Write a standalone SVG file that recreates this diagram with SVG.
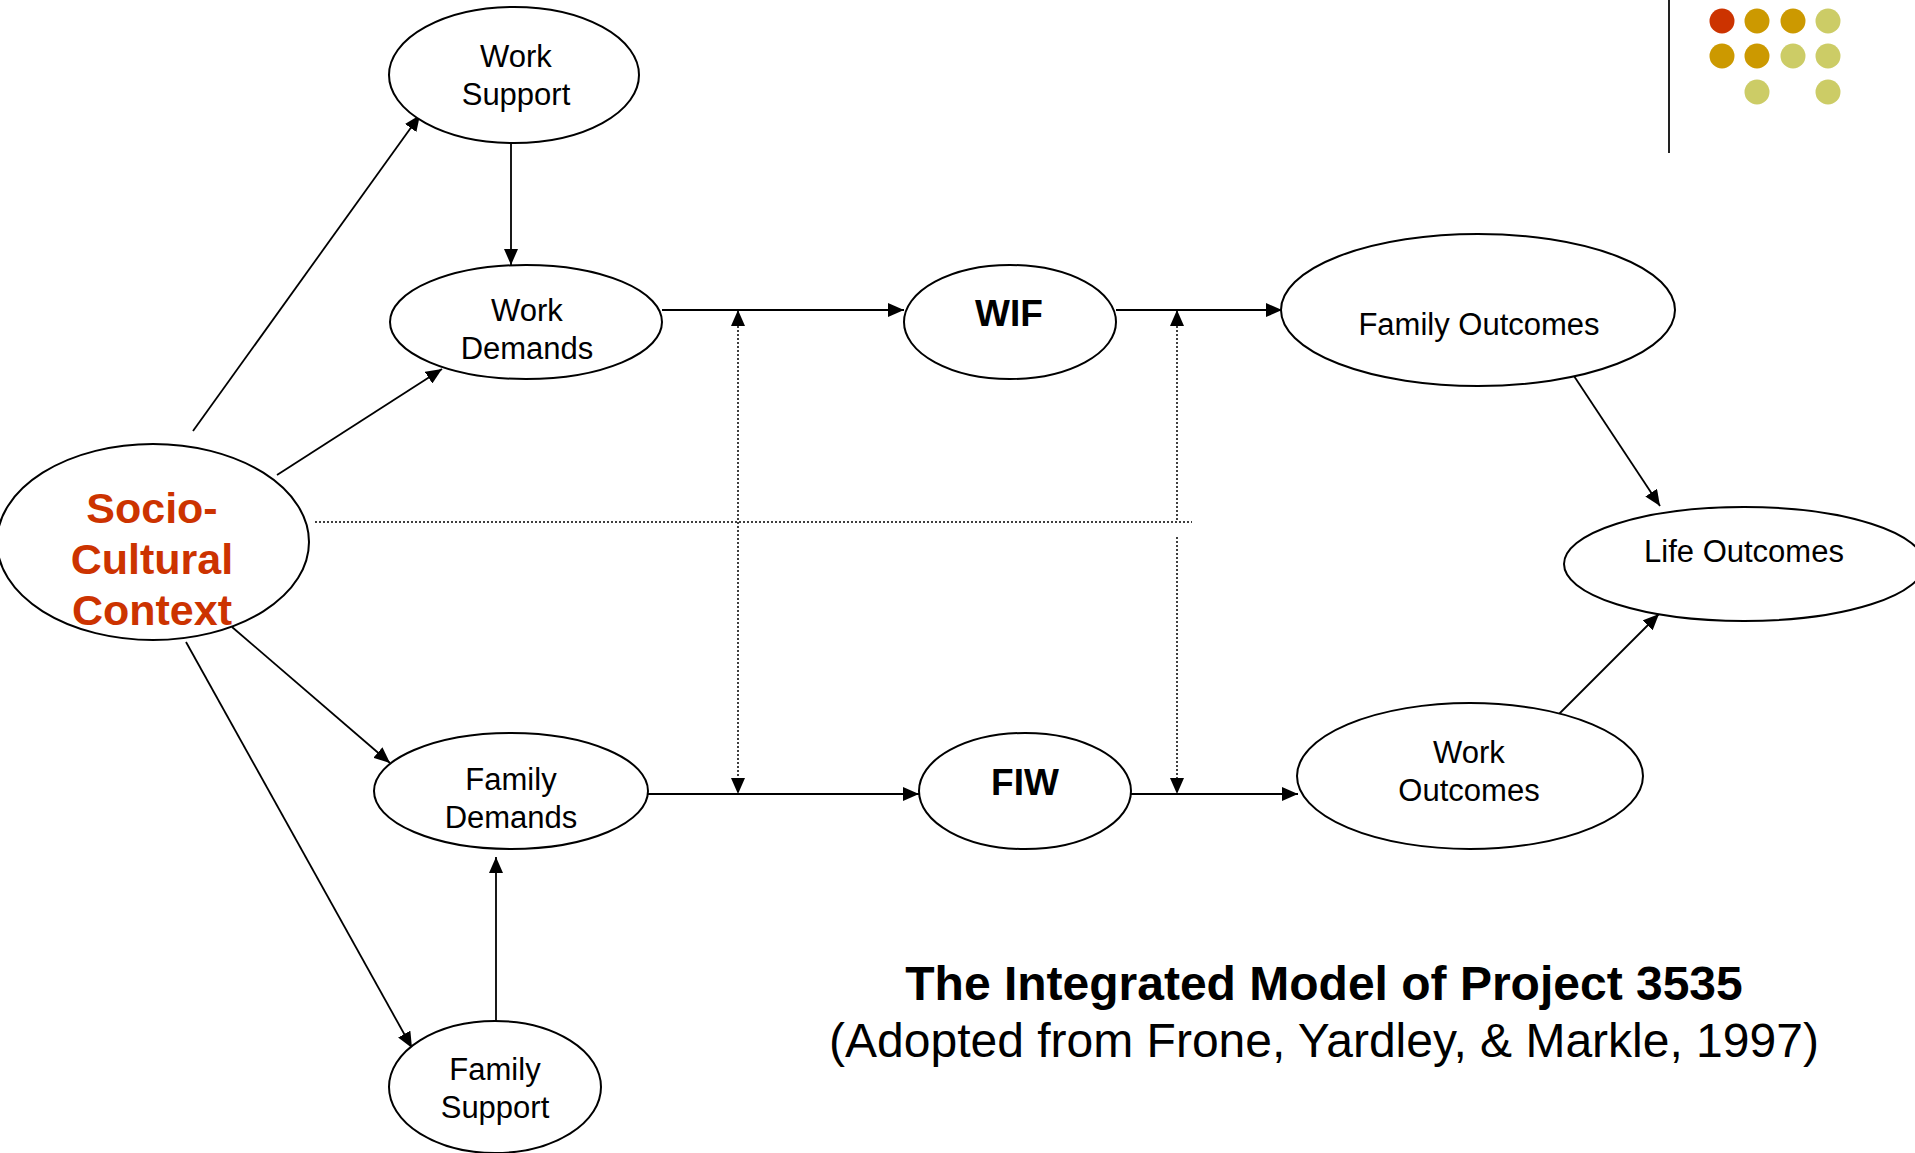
<svg xmlns="http://www.w3.org/2000/svg" width="1915" height="1153" viewBox="0 0 1915 1153">
<style>
.node ellipse{fill:#fff;stroke:#000;stroke-width:2}
.lbl{font-family:"Liberation Sans",Arial,sans-serif;font-size:31px;fill:#000;text-anchor:middle}
.bold{font-weight:bold;font-size:37px}
.socio{font-family:"Liberation Sans",Arial,sans-serif;font-weight:bold;font-size:43px;fill:#CC3300;text-anchor:middle}
.edge{stroke:#000;stroke-width:1.8;fill:none}
.dot{stroke:#000;stroke-width:1.5;stroke-dasharray:2,2;fill:none}
.title{font-family:"Liberation Sans",Arial,sans-serif;font-size:48px;fill:#000;text-anchor:middle}
</style>
<defs>
<marker id="arr" markerUnits="userSpaceOnUse" markerWidth="16" markerHeight="14" refX="16" refY="7" orient="auto-start-reverse">
<path d="M0,0 L16,7 L0,14 Z" fill="#000"/>
</marker>
</defs>
<rect width="1915" height="1153" fill="#fff"/>
<g id="decor">
<line x1="1669" y1="0" x2="1669" y2="153" stroke="#222" stroke-width="2"/>
<circle cx="1722" cy="21" r="12.5" fill="#CC3300"/>
<circle cx="1757" cy="21" r="12.5" fill="#CC9900"/>
<circle cx="1793" cy="21" r="12.5" fill="#CC9900"/>
<circle cx="1828" cy="21" r="12.5" fill="#CCCC66"/>
<circle cx="1722" cy="56" r="12.5" fill="#CC9900"/>
<circle cx="1757" cy="56" r="12.5" fill="#CC9900"/>
<circle cx="1793" cy="56" r="12.5" fill="#CCCC66"/>
<circle cx="1828" cy="56" r="12.5" fill="#CCCC66"/>
<circle cx="1757" cy="92" r="12.5" fill="#CCCC66"/>
<circle cx="1828" cy="92" r="12.5" fill="#CCCC66"/>
</g>
<g id="connectors">
<line class="edge" x1="193" y1="431" x2="420" y2="115" marker-end="url(#arr)"/>
<line class="edge" x1="277" y1="475" x2="442" y2="369" marker-end="url(#arr)"/>
<line class="edge" x1="232" y1="627" x2="390" y2="763" marker-end="url(#arr)"/>
<line class="edge" x1="186" y1="642" x2="412" y2="1048" marker-end="url(#arr)"/>
<line class="edge" x1="511" y1="143" x2="511" y2="265" marker-end="url(#arr)"/>
<line class="edge" x1="496" y1="1021" x2="496" y2="857" marker-end="url(#arr)"/>
<line class="edge" x1="662" y1="310" x2="904" y2="310" marker-end="url(#arr)"/>
<line class="edge" x1="1116" y1="310" x2="1282" y2="310" marker-end="url(#arr)"/>
<line class="edge" x1="647" y1="794" x2="919" y2="794" marker-end="url(#arr)"/>
<line class="edge" x1="1131" y1="794" x2="1298" y2="794" marker-end="url(#arr)"/>
<line class="edge" x1="1570" y1="370" x2="1660" y2="506" marker-end="url(#arr)"/>
<line class="edge" x1="1554" y1="719" x2="1659" y2="614" marker-end="url(#arr)"/>
<line class="dot" x1="315" y1="522" x2="1192" y2="522"/>
<line class="dot" x1="738" y1="310" x2="738" y2="794" marker-start="url(#arr)" marker-end="url(#arr)"/>
<line class="dot" x1="1177" y1="310" x2="1177" y2="522" marker-start="url(#arr)"/>
<line class="dot" x1="1177" y1="537" x2="1177" y2="794" marker-end="url(#arr)"/>
</g>
<g id="work-support" class="node">
<ellipse cx="514" cy="75" rx="125" ry="68"/>
<text class="lbl" x="516" y="67">Work</text>
<text class="lbl" x="516" y="105">Support</text>
</g>
<g id="work-demands" class="node">
<ellipse cx="526" cy="322" rx="136" ry="57"/>
<text class="lbl" x="527" y="321">Work</text>
<text class="lbl" x="527" y="359">Demands</text>
</g>
<g id="socio-cultural-context" class="node">
<ellipse cx="153" cy="542" rx="156" ry="98"/>
<text class="socio" x="152" y="523">Socio-</text>
<text class="socio" x="152" y="574">Cultural</text>
<text class="socio" x="152" y="625">Context</text>
</g>
<g id="family-demands" class="node">
<ellipse cx="511" cy="791" rx="137" ry="58"/>
<text class="lbl" x="511" y="790">Family</text>
<text class="lbl" x="511" y="828">Demands</text>
</g>
<g id="family-support" class="node">
<ellipse cx="495" cy="1087" rx="106" ry="66"/>
<text class="lbl" x="495" y="1080">Family</text>
<text class="lbl" x="495" y="1118">Support</text>
</g>
<g id="wif" class="node">
<ellipse cx="1010" cy="322" rx="106" ry="57"/>
<text class="lbl bold" x="1009" y="326">WIF</text>
</g>
<g id="fiw" class="node">
<ellipse cx="1025" cy="791" rx="106" ry="58"/>
<text class="lbl bold" x="1025" y="795">FIW</text>
</g>
<g id="family-outcomes" class="node">
<ellipse cx="1478" cy="310" rx="197" ry="76"/>
<text class="lbl" x="1479" y="335">Family Outcomes</text>
</g>
<g id="life-outcomes" class="node">
<ellipse cx="1744" cy="564" rx="180" ry="57"/>
<text class="lbl" x="1744" y="562">Life Outcomes</text>
</g>
<g id="work-outcomes" class="node">
<ellipse cx="1470" cy="776" rx="173" ry="73"/>
<text class="lbl" x="1469" y="763">Work</text>
<text class="lbl" x="1469" y="801">Outcomes</text>
</g>
<g id="caption">
<text class="title" x="1324" y="1000" font-weight="bold">The Integrated Model of Project 3535</text>
<text class="title" x="1324" y="1057">(Adopted from Frone, Yardley, &amp; Markle, 1997)</text>
</g>
</svg>
